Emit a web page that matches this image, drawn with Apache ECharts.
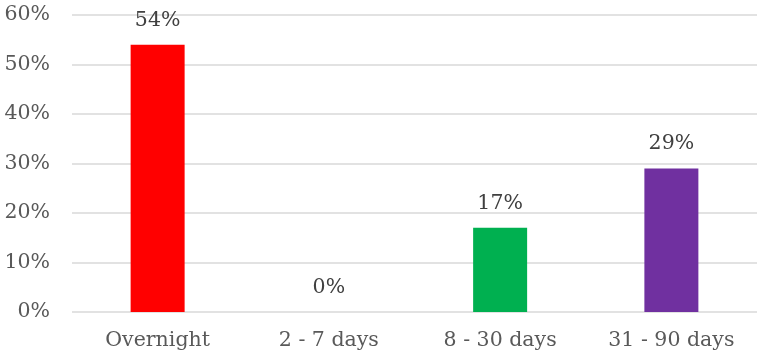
<!DOCTYPE html>
<html>
<head>
<meta charset="utf-8">
<style>
  html, body { margin: 0; padding: 0; background: #fff; }
  #chart { width: 757px; height: 356px; }
</style>
<script src="https://cdn.jsdelivr.net/npm/echarts@6/dist/echarts.min.js"></script>
</head>
<body>
<div id="chart"></div>
<script>
// Share of holdings by term bucket
const categories = ['Overnight', '2 - 7 days', '8 - 30 days', '31 - 90 days'];
const shares = [54, 0, 17, 29];
const barColors = ['#FF0000', '#FFC000', '#00B050', '#7030A0'];
const yTicks = [0, 10, 20, 30, 40, 50, 60];

const FONT = '"DejaVu Serif", serif';

const chart = echarts.init(document.getElementById('chart'), null, { renderer: 'canvas' });
chart.setOption({
  animation: false,
  backgroundColor: '#ffffff',
  grid: { left: 72, right: 0, top: 15, bottom: 44 },
  xAxis: {
    type: 'category',
    data: categories,
    axisLine: { show: false },
    axisTick: { show: false },
    axisLabel: { color: '#595959', fontFamily: FONT, fontSize: 20.5, margin: 18 }
  },
  yAxis: {
    type: 'value',
    min: yTicks[0],
    max: yTicks[yTicks.length - 1],
    interval: 10,
    axisLine: { show: false },
    axisTick: { show: false },
    splitLine: { lineStyle: { color: '#d9d9d9', width: 1.5 } },
    axisLabel: {
      color: '#595959', fontFamily: FONT, fontSize: 20.5, margin: 22,
      formatter: v => v + '%'
    }
  },
  series: [{
    type: 'bar',
    barWidth: 54,
    data: shares.map((v, i) => ({ value: v, itemStyle: { color: barColors[i] } })),
    label: {
      show: true,
      position: 'top',
      distance: 14,
      color: '#404040',
      fontFamily: FONT,
      fontSize: 20.5,
      formatter: p => p.value + '%'
    }
  }]
});
</script>
</body>
</html>
